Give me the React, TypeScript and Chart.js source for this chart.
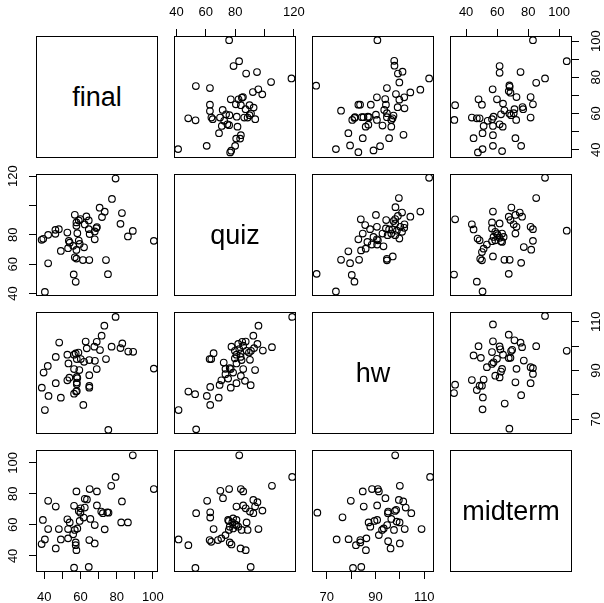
import React, { useEffect, useRef } from "react";
import { Chart, registerables } from "chart.js";

Chart.register(...registerables);

// ---- variables, axis ticks and labels ----
const variables = ["final", "quiz", "hw", "midterm"];
const tickValues = [
  [40, 50, 60, 70, 80, 90, 100],
  [40, 60, 80, 100, 120],
  [70, 80, 90, 100, 110],
  [40, 60, 80, 100],
];
const tickLabels = [
  [40, 60, 80, 100],
  [40, 60, 80, 120],
  [70, 90, 110],
  [40, 60, 80, 100],
];
const axisMin = [35.5, 38.3, 64.0, 29.6];
const axisMax = [102.8, 121.5, 114.0, 108.3];

// ---- pair data ----
const fqFinal = [100.5, 88.9, 86.2, 82.1, 82.9, 77.4, 79.4, 75.2, 74.1, 71.9, 73.4, 70.6, 67.9, 67.9, 69.1, 68.8, 65.1, 64.6, 64.6, 63.3, 62.4, 64.9, 61.4, 62.0, 57.8, 56.9, 57.8, 59.6, 59.1, 58.3, 57.8, 59.1, 60.0, 56.9, 57.8, 57.4, 56.3, 56.0, 54.1, 53.2, 53.6, 52.8, 49.2, 48.1, 46.2, 46.2, 42.2, 42.2, 40.4, 39.5, 38.6];
const fqQuiz = [75.9, 82.7, 78.9, 87.5, 94.9, 104.5, 118.4, 53.2, 62.8, 92.1, 95.8, 98.5, 77.0, 82.3, 85.3, 84.6, 80.5, 83.9, 89.8, 92.6, 87.1, 62.8, 62.8, 71.5, 63.8, 64.7, 69.7, 73.8, 76.1, 81.1, 86.2, 89.8, 90.8, 93.7, 88.5, 48.0, 53.0, 72.5, 74.7, 70.9, 75.9, 81.6, 69.0, 83.9, 83.4, 80.7, 80.0, 60.6, 41.1, 77.3, 76.6];

const fhFinal = [100.5, 75.4, 89.1, 86.4, 82.1, 83.1, 77.2, 79.4, 74.1, 73.2, 71.7, 70.8, 69.0, 67.7, 69.0, 68.0, 64.9, 64.9, 64.9, 64.9, 63.5, 62.9, 61.6, 62.0, 60.2, 59.4, 58.3, 58.0, 58.0, 58.0, 56.5, 57.6, 58.0, 56.5, 58.0, 58.9, 57.4, 56.5, 53.9, 52.8, 53.4, 52.8, 49.2, 46.4, 46.4, 48.3, 42.4, 40.4, 38.7, 39.7, 42.0];
const fhHw = [90.8, 65.7, 97.7, 97.8, 99.2, 101.1, 99.8, 112.0, 94.7, 108.4, 104.3, 98.4, 101.8, 99.8, 90.6, 94.0, 83.7, 83.0, 88.1, 94.3, 99.1, 101.9, 75.9, 93.6, 94.7, 90.2, 86.9, 85.1, 84.4, 81.6, 80.5, 81.4, 87.4, 90.6, 94.7, 97.4, 97.0, 96.5, 87.1, 86.0, 92.9, 96.5, 78.9, 84.8, 95.6, 101.5, 79.6, 73.8, 83.0, 89.2, 91.9];

const fmFinal = [100.5, 88.9, 86.2, 82.5, 82.9, 79.4, 77.0, 73.4, 75.5, 74.8, 72.4, 71.5, 69.1, 69.1, 65.1, 67.9, 67.9, 64.9, 65.5, 63.6, 62.4, 62.4, 64.6, 61.8, 60.0, 59.1, 59.6, 58.3, 56.9, 57.8, 57.4, 57.4, 56.0, 53.2, 53.2, 56.5, 54.1, 52.8, 56.5, 57.8, 49.2, 46.4, 48.1, 46.4, 42.2, 42.2, 40.4, 38.6, 39.3, 60.2];
const fmMidterm = [83.1, 104.9, 61.6, 61.6, 75.1, 90.9, 85.2, 57.1, 67.9, 68.1, 67.5, 68.6, 72.5, 81.6, 83.1, 48.0, 59.9, 50.2, 63.8, 76.4, 76.8, 71.2, 32.9, 64.7, 67.9, 69.0, 62.5, 57.7, 56.7, 43.7, 46.9, 48.7, 53.9, 57.3, 51.3, 32.4, 61.6, 63.6, 72.3, 81.6, 50.6, 44.8, 57.3, 71.8, 57.3, 75.5, 50.6, 47.6, 63.2, 70.7];

const qhQuiz = [118.9, 105.1, 98.9, 95.9, 95.2, 92.9, 92.4, 93.6, 90.6, 90.1, 90.8, 89.4, 86.7, 85.5, 83.9, 80.9, 84.4, 83.7, 83.7, 87.8, 87.2, 84.8, 85.5, 82.8, 80.9, 80.9, 79.8, 79.8, 77.5, 78.6, 77.0, 76.3, 75.2, 77.0, 73.4, 73.4, 72.2, 70.6, 69.4, 68.8, 63.0, 60.7, 63.0, 63.7, 62.6, 65.3, 53.4, 52.7, 48.1, 41.4, 82.1];
const qhHw = [112.0, 99.6, 98.2, 108.4, 100.9, 99.2, 104.3, 90.2, 84.0, 94.4, 98.1, 97.4, 85.8, 90.6, 87.8, 84.8, 94.3, 95.6, 97.0, 98.1, 101.9, 101.8, 100.2, 98.8, 96.5, 92.9, 95.0, 98.1, 99.8, 89.2, 90.6, 91.0, 86.7, 83.0, 88.5, 90.7, 93.3, 86.0, 84.1, 78.9, 75.9, 79.6, 83.3, 94.7, 94.7, 97.1, 65.9, 80.3, 81.4, 73.8, 100.9];

const qmQuiz = [118.9, 105.1, 82.8, 90.6, 95.9, 98.6, 95.2, 92.4, 92.4, 90.1, 93.6, 88.5, 87.8, 87.2, 83.7, 84.4, 87.2, 85.5, 85.5, 83.9, 80.9, 82.1, 79.8, 80.9, 78.6, 78.0, 75.7, 78.6, 75.7, 77.5, 76.3, 73.4, 70.6, 68.3, 63.7, 62.6, 65.3, 63.0, 63.0, 71.7, 69.9, 75.9, 60.9, 53.4, 52.9, 48.1, 41.4, 80.9, 75.2, 76.3];
const qmMidterm = [90.9, 85.2, 104.9, 32.9, 57.3, 69.2, 74.6, 76.1, 67.5, 68.6, 71.8, 56.7, 61.6, 43.7, 44.8, 56.7, 70.7, 72.5, 81.6, 83.1, 71.8, 58.8, 60.3, 63.2, 64.2, 61.6, 62.5, 57.7, 56.7, 47.4, 48.7, 53.4, 51.3, 50.2, 49.1, 50.2, 57.3, 64.7, 68.1, 77.2, 82.0, 83.1, 75.5, 67.5, 32.2, 46.9, 50.6, 59.9, 63.2, 58.8];

const hmHw = [112.4, 108.9, 98.1, 104.7, 102.4, 101.4, 99.6, 100.0, 99.9, 98.7, 98.5, 98.0, 102.0, 97.6, 100.0, 96.2, 95.2, 96.5, 94.8, 95.1, 95.2, 94.1, 92.7, 93.4, 91.4, 90.7, 89.6, 90.7, 91.4, 91.0, 88.6, 87.9, 87.2, 86.1, 86.3, 83.8, 82.0, 83.8, 84.2, 80.8, 79.0, 85.2, 84.8, 79.9, 76.5, 74.1, 66.2];
const hmMidterm = [90.9, 57.3, 104.9, 67.5, 71.2, 75.1, 76.1, 85.2, 61.6, 62.1, 69.7, 69.0, 57.3, 56.7, 48.0, 44.8, 49.5, 63.8, 59.9, 67.5, 68.6, 77.2, 56.7, 57.7, 53.4, 63.2, 62.5, 72.5, 81.6, 83.1, 83.1, 58.8, 61.6, 43.7, 51.3, 48.7, 46.9, 50.2, 32.9, 32.2, 50.8, 71.8, 81.6, 75.5, 64.9, 50.6, 67.9];

// pair table: key "a-b" (a < b) -> [values of variable a, values of variable b]
const pairTable: Record<string, [number[], number[]]> = {
  "0-1": [fqFinal, fqQuiz],
  "0-2": [fhFinal, fhHw],
  "0-3": [fmFinal, fmMidterm],
  "1-2": [qhQuiz, qhHw],
  "1-3": [qmQuiz, qmMidterm],
  "2-3": [hmHw, hmMidterm],
};

// ---- layout ----
const ORIGIN = 36;
const STEP = 138;
const BOX = 122;
const M = 40;
const FONT = "'Liberation Sans', Arial, Helvetica, sans-serif";

const framePlugin = {
  id: "frame",
  afterDraw(chart: any) {
    const { ctx, chartArea: a } = chart;
    ctx.save();
    ctx.strokeStyle = "#000";
    ctx.lineWidth = 1;
    ctx.strokeRect(a.left + 0.5, a.top + 0.5, a.width - 1, a.height - 1);
    ctx.restore();
  },
};

function axisOptions(v: number, horizontal: boolean, position: string, shown: boolean) {
  let padding = 11;
  if (position === "top") padding = 8.5;
  if (position === "left") padding = 4.7;
  if (position === "right") padding = 6.7;
  return {
    type: "linear",
    position,
    display: shown,
    min: axisMin[v],
    max: axisMax[v],
    afterBuildTicks: (s: any) => {
      s.ticks = tickValues[v].map((value) => ({ value }));
    },
    afterFit: shown
      ? (s: any) => {
          if (horizontal) s.height = M;
          else s.width = M;
        }
      : undefined,
    grid: {
      display: true,
      drawOnChartArea: false,
      drawTicks: true,
      tickLength: 7,
      color: "#000",
      lineWidth: 1,
    },
    border: { display: false },
    ticks: {
      autoSkip: false,
      color: "#000",
      font: { family: FONT, size: 13 },
      padding,
      minRotation: horizontal ? 0 : 90,
      maxRotation: horizontal ? 0 : 90,
      crossAlign: horizontal ? "near" : "center",
      callback: (val: any) => (tickLabels[v].includes(Number(val)) ? String(val) : ""),
    },
  };
}

function ScatterPanel({ row, col }: { row: number; col: number }) {
  const ref = useRef<HTMLCanvasElement | null>(null);
  useEffect(() => {
    const a = Math.min(row, col);
    const b = Math.max(row, col);
    const [A, B] = pairTable[`${a}-${b}`];
    const xs = col === a ? A : B;
    const ys = row === a ? A : B;
    const points = xs.map((x, k) => ({ x, y: ys[k] }));

    const xTop = row === 0 && col % 2 === 1;
    const xBottom = row === 3 && col % 2 === 0;
    const yLeft = col === 0 && row % 2 === 1;
    const yRight = col === 3 && row % 2 === 0;

    const chart = new Chart(ref.current as HTMLCanvasElement, {
      type: "scatter",
      data: {
        datasets: [
          {
            data: points,
            pointStyle: "circle",
            pointRadius: 3.3,
            pointBorderWidth: 1.15,
            pointBorderColor: "#000",
            pointBackgroundColor: "rgba(0,0,0,0)",
            showLine: false,
          } as any,
        ],
      },
      options: {
        responsive: false,
        animation: false,
        devicePixelRatio: 1,
        events: [],
        layout: {
          padding: {
            left: yLeft ? 0 : M,
            right: yRight ? 0 : M,
            top: xTop ? 0 : M,
            bottom: xBottom ? 0 : M,
          },
        },
        plugins: { legend: { display: false }, tooltip: { enabled: false } },
        scales: {
          x: axisOptions(col, true, xTop ? "top" : "bottom", xTop || xBottom) as any,
          y: axisOptions(row, false, yLeft ? "left" : "right", yLeft || yRight) as any,
        },
      },
      plugins: [framePlugin],
    });
    return () => chart.destroy();
  }, [row, col]);

  const size = BOX + 2 * M;
  return (
    <canvas
      ref={ref}
      width={size}
      height={size}
      style={{
        position: "absolute",
        left: ORIGIN + col * STEP - M,
        top: ORIGIN + row * STEP - M,
        width: size,
        height: size,
      }}
    />
  );
}

function LabelPanel({ index }: { index: number }) {
  return (
    <div
      style={{
        position: "absolute",
        left: ORIGIN + index * STEP,
        top: ORIGIN + index * STEP,
        width: BOX,
        height: BOX,
        boxSizing: "border-box",
        border: "1px solid #000",
        display: "flex",
        alignItems: "center",
        justifyContent: "center",
        fontFamily: FONT,
        fontSize: 27,
        color: "#000",
      }}
    >
      {variables[index]}
    </div>
  );
}

export default function App() {
  const cells: React.ReactNode[] = [];
  for (let r = 0; r < 4; r++) {
    for (let c = 0; c < 4; c++) {
      if (r === c) cells.push(<LabelPanel key={`${r}-${c}`} index={r} />);
      else cells.push(<ScatterPanel key={`${r}-${c}`} row={r} col={c} />);
    }
  }
  return (
    <div
      style={{
        position: "absolute",
        left: 0,
        top: 0,
        width: 604,
        height: 603,
        background: "#fff",
        overflow: "hidden",
      }}
    >
      {cells}
    </div>
  );
}
